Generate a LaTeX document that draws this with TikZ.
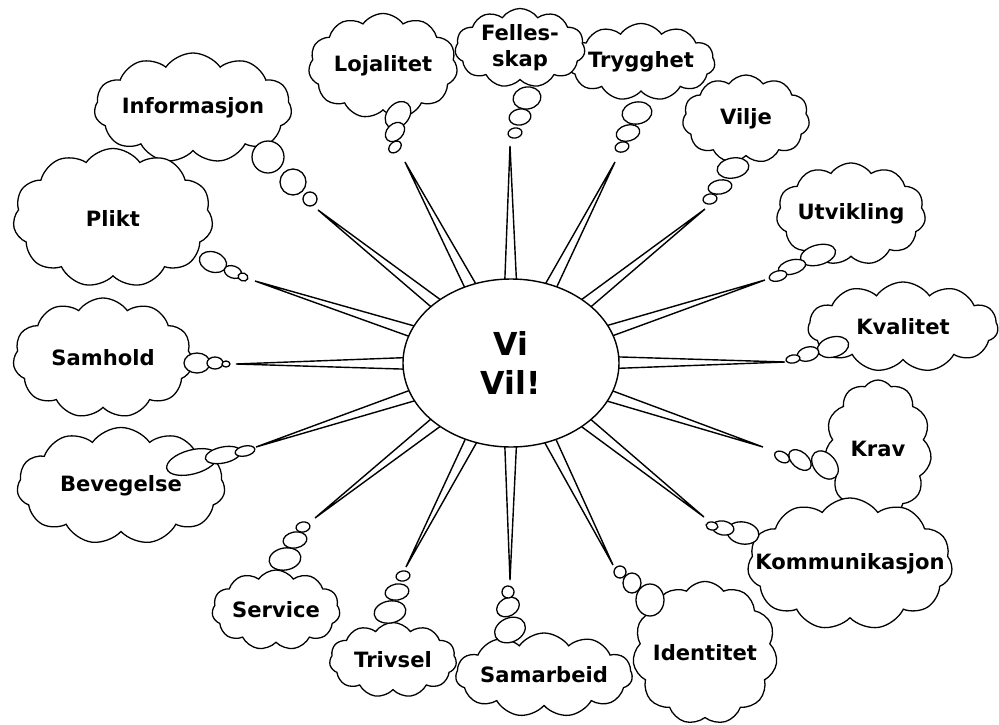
\documentclass[tikz,border=0pt]{standalone}
\usepackage{fontspec}
\setmainfont{DejaVu Sans}
\usepackage{tikz}
\usetikzlibrary{shapes.symbols, shapes.geometric, calc, backgrounds}
\tikzset{
  centre/.style   ={ellipse, draw=black, line width=1.2pt, fill=white, inner sep=0pt,
                    font=\fontsize{27}{34}\selectfont\bfseries, align=center},
  thought/.style  ={cloud, cloud puffs=11, cloud puff arc=110, cloud ignores aspect,
                    draw=black, line width=1.1pt, fill=white, inner sep=0pt,
                    font=\fontsize{18}{22}\selectfont\bfseries, align=center},
  cloudsize/.style 2 args={minimum width=#1*0.03cm, minimum height=#2*0.03cm},
  bubble/.style   ={draw=black, line width=1.1pt, fill=white},
  spike/.style    ={draw=black, line width=1.2pt, line join=miter},
}

\begin{document}
\begin{tikzpicture}[x=0.03cm, y=-0.03cm]
\useasboundingbox (0,0) rectangle (999,725);

\node[centre, minimum width=216*0.03cm, minimum height=168*0.03cm] (vivil) at (511,363) {Vi\\Vil!};

% thought clouds, clockwise from the top left
\node[thought, cloudsize={187}{110}] (info)    at (193,108) {Informasjon};
\node[thought, cloudsize={200}{139}] (plikt)   at (113,218) {Plikt};
\node[thought, cloudsize={180}{120}] (samhold) at (103,358) {Samhold};
\node[thought, cloudsize={208}{117}] (beveg)   at (121,486) {Bevegelse};
\node[thought, cloudsize={128}{80}]  (service) at (276,610) {Service};
\node[thought, cloudsize={127}{75}]  (trivsel) at (393,660) {Trivsel};
\node[thought, cloudsize={172}{84}]  (samarb)  at (544,675) {Samarbeid};
\node[thought, cloudsize={135}{143}] (ident)   at (705,653) {Identitet};
\node[thought, cloudsize={107}{138}] (krav)    at (878,449) {Krav};
\node[thought, cloudsize={205}{132}, inner xsep=-28pt] (komm) at (850,564) {Kommunikasjon};
\node[thought, cloudsize={190}{90}]  (kval)    at (903,327) {Kvalitet};
\node[thought, cloudsize={143}{102}] (utv)     at (851,214) {Utvikling};
\node[thought, cloudsize={127}{88}]  (vilje)   at (746,119) {Vilje};
\node[thought, cloudsize={132}{77}]  (trygg)   at (641,62)  {Trygghet};
\node[thought, cloudsize={130}{79}]  (felles)  at (520,48)  {Felles-\\skap};
\node[thought, cloudsize={149}{105}] (lojal)   at (383,66)  {Lojalitet};

% bubble chains: x/y/rx/ry/tilt
\foreach \x/\y/\a/\b/\r in {
    268/157/16/16/0,   293/182/13/13/0,   310/199/7/7/0,
    213/262/14/10/-20, 233/272/9/6/-20,   243/277/5/4/-20,
    197/363/13/10/0,   215/363/8/6/0,     226/364/4/3/0,
    192/462/26/12/15,  223/455/18/8/12,   245/451/10/5/12,
    285/559/16/11/10,  295/540/12/8/10,   303/527/7/5/10,
    390/612/16/11/10,  397/592/12/8/10,   403/576/7/5/10,
    510/630/16/12/25,  508/607/12/9/30,   508/592/6/6/30,
    650/600/14/16/0,   632/583/9/10/0,    620/572/6/6/0,
    743/533/16/11/-10, 723/528/11/7/-10,  712/526/6/4/-10,
    825/465/16/11/-50, 800/460/13/8/-40,  782/457/8/5/-30,
    833/347/16/10/15,  808/354/11/7/15,   793/359/7/4/10,
    818/255/18/10/15,  792/267/14/7/15,   778/276/9/5/15,
    733/168/16/10/10,  720/187/12/7/10,   710/199/7/5/10,
    637/113/15/11/10,  628/133/12/8/15,   622/147/7/5/15,
    527/98/14/11/10,   520/117/11/8/10,   515/133/7/5/10,
    398/115/15/11/50,  395/132/11/8/45,   395/147/7/5/40}
  \draw[bubble, rotate around={\r:(\x,\y)}] (\x,\y) ellipse ({\a} and {\b});

% spike tips
\coordinate (tinfo)    at (318,210);
\coordinate (tplikt)   at (255,281);
\coordinate (tsamhold) at (236,364);
\coordinate (tbeveg)   at (256,447);
\coordinate (tservice) at (315,518);
\coordinate (ttrivsel) at (406,567);
\coordinate (tsamarb)  at (510,580);
\coordinate (tident)   at (613,565);
\coordinate (tkomm)    at (704,517);
\coordinate (tkrav)    at (763,447);
\coordinate (tkval)    at (785,362);
\coordinate (tutv)     at (765,280);
\coordinate (tvilje)   at (705,209);
\coordinate (ttrygg)   at (615,162);
\coordinate (tfelles)  at (510,146);
\coordinate (tlojal)   at (405,162);

\begin{pgfonlayer}{background}
  \fill[white] (0,0) rectangle (999,725);
  \foreach \t in {tinfo,tplikt,tsamhold,tbeveg,tservice,ttrivsel,tsamarb,tident,
                  tkomm,tkrav,tkval,tutv,tvilje,ttrygg,tfelles,tlojal}
    \draw[spike] ($(vivil.center)!8pt!90:(\t)$) -- (\t) -- ($(vivil.center)!8pt!-90:(\t)$);
\end{pgfonlayer}
\end{tikzpicture}
\end{document}
